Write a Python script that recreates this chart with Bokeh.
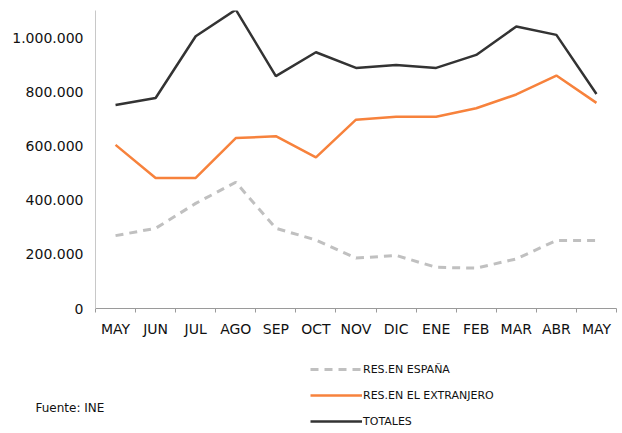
from bokeh.plotting import figure
from bokeh.models import FixedTicker, Legend, LegendItem, Label, Range1d, ColumnDataSource
from bokeh.layouts import column
from bokeh.embed import file_html
from bokeh.resources import INLINE

months = ["MAY", "JUN", "JUL", "AGO", "SEP", "OCT", "NOV", "DIC", "ENE", "FEB", "MAR", "ABR", "MAY"]
espana = [269000, 296000, 388000, 466000, 296000, 253000, 186000, 196000, 152000, 149000, 183000, 251000, 251000]
extranjero = [604000, 482000, 482000, 629000, 636000, 558000, 697000, 708000, 708000, 739000, 790000, 860000, 759000]
totales = [751000, 777000, 1005000, 1103000, 858000, 946000, 888000, 899000, 888000, 936000, 1041000, 1010000, 792000]
y_ticks = [0, 200000, 400000, 600000, 800000, 1000000]
y_labels = ["0", "200.000", "400.000", "600.000", "800.000", "1.000.000"]
series_names = ["RES.EN ESPAÑA", "RES.EN EL EXTRANJERO", "TOTALES"]
source_text = "Fuente: INE"

styles = [dict(line_color="#c0c0c0", line_width=3, line_dash="8 6"),
          dict(line_color="#f7823c", line_width=2.5),
          dict(line_color="#333333", line_width=2.5)]

xs = [i + 0.5 for i in range(len(months))]
src = ColumnDataSource(dict(x=xs, esp=espana, ext=extranjero, tot=totales))

p = figure(width=622, height=340, output_backend="svg", toolbar_location=None,
           x_range=Range1d(0, len(months)), y_range=Range1d(0, 1100000),
           min_border_left=95, min_border_top=10, min_border_right=6, min_border_bottom=32)
p.outline_line_color = None
p.xgrid.visible = False
p.ygrid.visible = False
p.frame_align = False

p.line("x", "esp", source=src, **styles[0])
p.line("x", "ext", source=src, **styles[1])
p.line("x", "tot", source=src, **styles[2])

# x axis
xa = p.xaxis[0]
xa.ticker = FixedTicker(ticks=xs, minor_ticks=list(range(len(months) + 1)))
xa.major_label_overrides = {x: m for x, m in zip(xs, months)}
xa.major_tick_line_color = None
xa.major_tick_out = 0
xa.major_tick_in = 0
xa.minor_tick_line_color = "#9a9a9a"
xa.minor_tick_out = 4
xa.minor_tick_in = 0
xa.axis_line_color = "#9a9a9a"
xa.major_label_standoff = 8
xa.major_label_text_font = "DejaVu Sans"
xa.major_label_text_font_size = "14px"
xa.major_label_text_color = "#111111"

# y axis
ya = p.yaxis[0]
ya.ticker = FixedTicker(ticks=y_ticks)
ya.major_label_overrides = {t: l for t, l in zip(y_ticks, y_labels)}
ya.major_tick_line_color = None
ya.major_tick_out = 0
ya.minor_tick_line_color = None
ya.axis_line_color = "#c8c8c8"
ya.major_label_standoff = 12
ya.major_label_text_font = "DejaVu Sans"
ya.major_label_text_font_size = "14px"
ya.major_label_text_color = "#111111"

# lower panel: legend and source
p2 = figure(width=622, height=93, output_backend="svg", toolbar_location=None,
            x_range=Range1d(0, 622), y_range=Range1d(0, 93),
            min_border=0, min_border_left=0, min_border_right=0,
            min_border_top=0, min_border_bottom=0)
p2.axis.visible = False
p2.grid.visible = False
p2.outline_line_color = None
p2.frame_align = False
rs = [p2.line(x=[0], y=[float("nan")], **st) for st in styles]

legend = Legend(items=[LegendItem(label=n, renderers=[r]) for n, r in zip(series_names, rs)],
                location=(310, 5), orientation="vertical",
                glyph_width=52, glyph_height=14, label_height=14, label_standoff=1,
                spacing=12, padding=0, margin=0, border_line_color=None,
                background_fill_alpha=0,
                label_text_font="DejaVu Sans", label_text_font_size="11px",
                label_text_color="#111111")
p2.add_layout(legend, "center")

lab = Label(x=35, y=26, x_units="screen", y_units="screen", text=source_text,
            text_font="DejaVu Sans", text_font_size="12px", text_baseline="middle",
            text_color="#111111")
p2.add_layout(lab)

open("out.html", "w").write(file_html(column(p, p2, spacing=0), INLINE))
